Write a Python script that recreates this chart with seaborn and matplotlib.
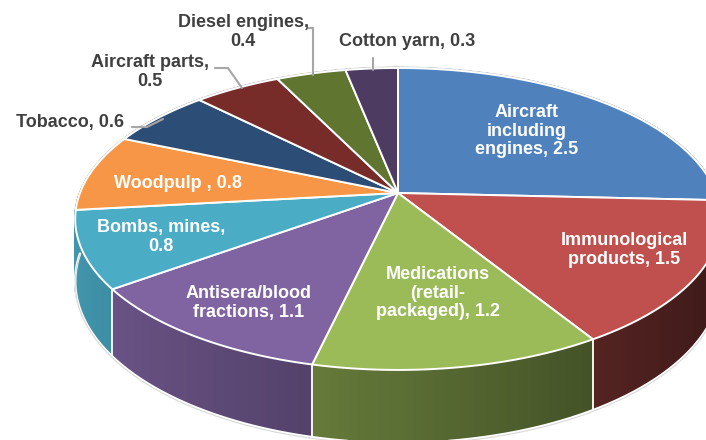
import numpy as np
import matplotlib
matplotlib.use("Agg")
import matplotlib.pyplot as plt
from matplotlib.patches import Polygon
from matplotlib.colors import to_rgb
import seaborn as sns

# Export values (billion USD) by product
categories = ["Aircraft\nincluding\nengines", "Immunological\nproducts",
              "Medications\n(retail-\npackaged)", "Antisera/blood\nfractions",
              "Bombs, mines,\n", "Woodpulp ", "Tobacco", "Aircraft parts,\n",
              "Diesel engines,\n", "Cotton yarn"]
values = [2.5, 1.5, 1.2, 1.1, 0.8, 0.8, 0.6, 0.5, 0.4, 0.3]
colors = ["#4F81BD", "#C0504D", "#9BBB59", "#8064A2", "#4BACC6",
          "#F79646", "#2C4D75", "#772C2A", "#5F7530", "#4D3B62"]

sns.set_theme(style="white")
plt.rcParams["font.family"] = ["Liberation Sans", "DejaVu Sans"]

W, H = 706, 440
fig = plt.figure(figsize=(W / 100, H / 100), dpi=100)
ax = fig.add_axes([0, 0, 1, 1])
ax.set_xlim(0, W)
ax.set_ylim(H, 0)
ax.axis("off")

# Perspective disc: centre, half-axes, tilt factor, wall depth
CX, CY, A, B, K, DEPTH = 398.0, 193.0, 318.0, 146.5, 0.172, 60.0


def proj(r, t, dz=0.0):
    w = 1 + K * r * np.sin(t)
    x = CX + A * r * np.cos(t) / w
    y = CY - B * r * np.sin(t) / w + dz / w
    return np.column_stack([np.atleast_1d(x), np.atleast_1d(y)])


total = sum(values)
sweeps = [v / total * 2 * np.pi for v in values]
starts = np.pi / 2 - np.concatenate([[0], np.cumsum(sweeps)[:-1]])
ends = starts - np.array(sweeps)


def shade(col, t):
    f = 0.59 - 0.29 * np.cos(t)
    return tuple(np.clip(np.array(to_rgb(col)) * f, 0, 1))


# Side wall, drawn as thin slabs from back to front
slabs = []
for s0, e0, col in zip(starts, ends, colors):
    n = max(2, int(np.degrees(s0 - e0)))
    ts = np.linspace(s0, e0, n + 1)
    for a, b in zip(ts[:-1], ts[1:]):
        tt = np.linspace(a, b, 4)
        top = proj(1, tt)
        bot = proj(1, tt, DEPTH)
        slabs.append((np.sin((a + b) / 2), np.vstack([top, bot[::-1]]), shade(col, (a + b) / 2)))
slabs.sort(key=lambda s: -s[0])
for _, pts, c in slabs:
    ax.add_patch(Polygon(pts, closed=True, facecolor=c, edgecolor=c, lw=1.6,
                         joinstyle="miter", zorder=1))

# Outline of the wall bottom and seams between slices on the wall
tb = np.linspace(-np.pi, 0, 300)
bp = proj(1, tb, DEPTH)
ax.plot(bp[:, 0], bp[:, 1] + 0.6, color="white", lw=1.8, zorder=2)
ax.plot(bp[:, 0], bp[:, 1] + 1.8, color="#d9d9d9", lw=0.8, zorder=2)
for e0 in ends:
    ang = (e0 + np.pi) % (2 * np.pi) - np.pi
    if -np.radians(170) < ang < -np.radians(10):
        p = np.vstack([proj(1, ang), proj(1, ang, DEPTH)])
        ax.plot(p[:, 0], p[:, 1], color="white", lw=1.3, zorder=2)

# Top face of each slice
for s0, e0, col in zip(starts, ends, colors):
    tt = np.linspace(s0, e0, 120)
    pts = np.vstack([proj(0, 0), proj(1, tt)])
    ax.add_patch(Polygon(pts, closed=True, facecolor=col, edgecolor="white",
                         lw=1.4, joinstyle="round", zorder=3))

tb = np.linspace(0, np.pi, 300)
bp = proj(1, tb)
ax.plot(bp[:, 0], bp[:, 1] - 1.0, color="#d9d9d9", lw=0.8, zorder=2)

# Labels
fs = 13
inside = {0: (527, 131), 1: (624, 250), 2: (438, 293), 3: (249, 303),
          4: (161, 237), 5: (178, 183)}
for i, (x, y) in inside.items():
    name = categories[i]
    sep = "" if name.endswith("\n") else ", "
    ax.text(x, y, f"{name}{sep}{values[i]}", ha="center", va="center",
            color="white", fontsize=fs, fontweight="bold", linespacing=1.15, zorder=5)

outside = {6: (70, 122), 7: (150, 72), 8: (243, 32), 9: (407, 42)}
for i, (x, y) in outside.items():
    name = categories[i]
    sep = "" if name.endswith("\n") else ", "
    ax.text(x, y, f"{name}{sep}{values[i]}", ha="center", va="center",
            color="#404040", fontsize=fs, fontweight="bold", linespacing=1.15, zorder=5)

# Leader lines
leaders = [[(132, 127), (147, 127), (163, 119)],
           [(215, 68), (228, 68), (242, 88)],
           [(308, 28), (313, 28), (313, 75)],
           [(373, 58), (373, 70)]]
for seg in leaders:
    seg = np.array(seg)
    ax.plot(seg[:, 0], seg[:, 1], color="#a6a6a6", lw=1.5, zorder=4)

fig.savefig("out.png", dpi=100, facecolor="white")
